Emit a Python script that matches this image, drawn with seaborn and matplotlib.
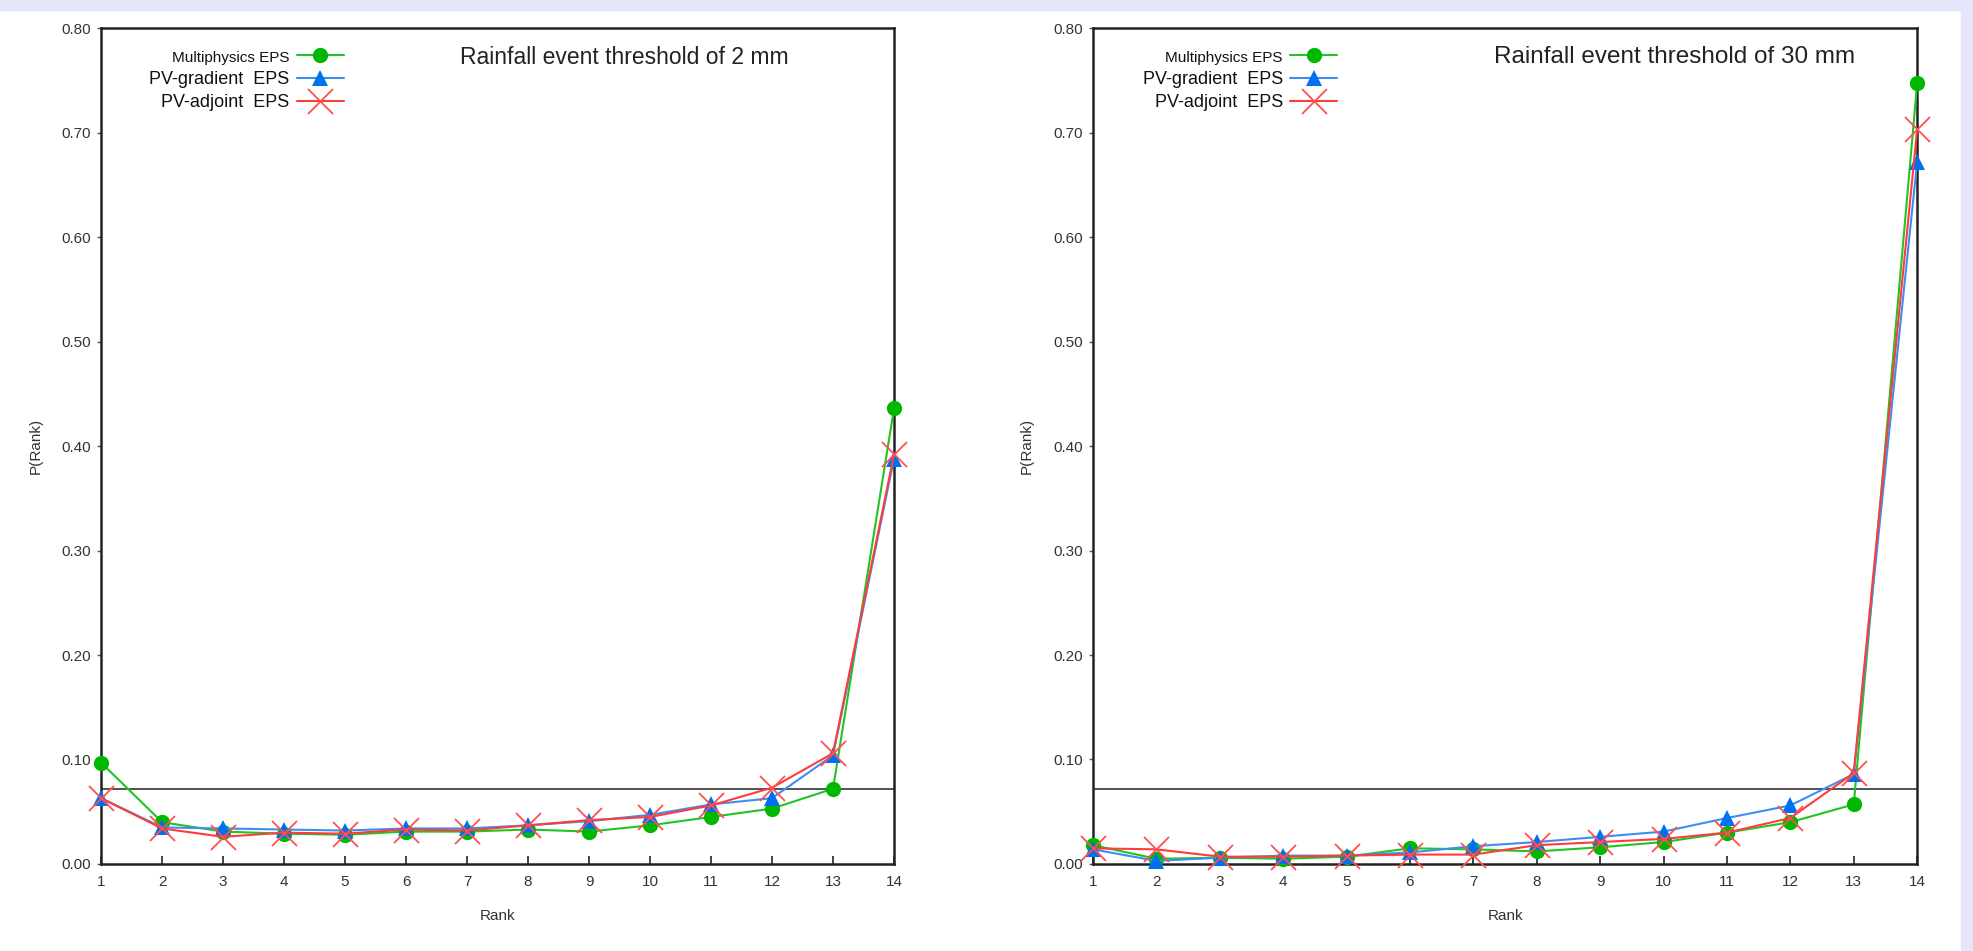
import numpy as np
import pandas as pd
import matplotlib
matplotlib.use("Agg")
import matplotlib.pyplot as plt
import seaborn as sns
from matplotlib.patches import Rectangle

sns.set_style("white")
plt.rcParams['font.family'] = ['Liberation Sans', 'DejaVu Sans']

ranks = list(range(1, 15))
series_names = ["Multiphysics EPS", "PV-gradient  EPS", "PV-adjoint  EPS"]

# Rainfall event threshold of 2 mm
multi_2mm = [0.097, 0.040, 0.031, 0.029, 0.028, 0.031, 0.031, 0.033, 0.031, 0.037, 0.045, 0.053, 0.072, 0.436]
grad_2mm = [0.063, 0.035, 0.034, 0.033, 0.032, 0.034, 0.034, 0.037, 0.041, 0.047, 0.057, 0.063, 0.104, 0.388]
adj_2mm = [0.063, 0.034, 0.026, 0.030, 0.029, 0.033, 0.032, 0.037, 0.042, 0.045, 0.056, 0.073, 0.106, 0.392]

# Rainfall event threshold of 30 mm
multi_30mm = [0.018, 0.005, 0.006, 0.005, 0.007, 0.015, 0.014, 0.012, 0.016, 0.021, 0.030, 0.040, 0.057, 0.747]
grad_30mm = [0.014, 0.003, 0.006, 0.008, 0.008, 0.011, 0.017, 0.021, 0.026, 0.031, 0.044, 0.056, 0.086, 0.672]
adj_30mm = [0.015, 0.014, 0.007, 0.007, 0.008, 0.009, 0.009, 0.018, 0.021, 0.024, 0.030, 0.044, 0.087, 0.703]

titles = ["Rainfall event threshold of 2 mm", "Rainfall event threshold of 30 mm"]
uniform_level = 1.0 / 14
y_ticks = [0.0, 0.1, 0.2, 0.3, 0.4, 0.5, 0.6, 0.7, 0.8]

styles = [
    dict(color="#22c422", marker="o", markersize=11, mec="#00b800", mfc="#00b800", mew=0),
    dict(color="#3d8ef0", marker="^", markersize=12, mec="#0070f0", mfc="#0070f0", mew=0),
    dict(color="#ff3b3b", marker="x", markersize=18, mec="#ff5050", mfc="none", mew=1.3),
]

fig = plt.figure(figsize=(19.74, 9.51), dpi=100)
fig.patch.set_facecolor("white")
# lavender frame strips
fig.patches.append(Rectangle((0, 0.989), 1, 0.011, transform=fig.transFigure, color="#e6e6fa", zorder=-1))
fig.patches.append(Rectangle((0.9935, 0), 0.0065, 1, transform=fig.transFigure, color="#e6e6fa", zorder=-1))

axes = [fig.add_axes([0.0512, 0.0915, 0.4017, 0.879]),
        fig.add_axes([0.5537, 0.0915, 0.4175, 0.879])]

datasets = [[multi_2mm, grad_2mm, adj_2mm], [multi_30mm, grad_30mm, adj_30mm]]
title_x = [0.453, 0.487]
title_fs = [16.5, 17.5]

for ax, data, title, tx, tfs in zip(axes, datasets, titles, title_x, title_fs):
    ax.axhline(uniform_level, color="#444444", lw=1.3, zorder=1)
    for name, vals, st in zip(series_names, data, styles):
        df = pd.DataFrame({"Rank": ranks, "P": vals})
        sns.lineplot(data=df, x="Rank", y="P", ax=ax, label=name, color=st["color"],
                     marker=st["marker"], markersize=st["markersize"], markeredgecolor=st["mec"],
                     markerfacecolor=st["mfc"], markeredgewidth=st["mew"], linewidth=1.5,
                     clip_on=False, zorder=3)
    ax.set_xlim(1, 14)
    ax.set_ylim(0, 0.8)
    ax.set_xticks(ranks)
    ax.set_xticklabels([str(r) for r in ranks], fontsize=11, color="#333333")
    ax.set_yticks(y_ticks)
    ax.set_yticklabels([f"{v:.2f}" for v in y_ticks], fontsize=11, color="#333333")
    ax.tick_params(axis="x", direction="in", length=6, width=1.2, color="#222222", pad=8, bottom=True)
    ax.tick_params(axis="y", direction="out", length=3, width=1, color="#555555", pad=4, left=True)
    ax.set_xlabel("Rank", fontsize=11, color="#333333", labelpad=14)
    ax.set_ylabel("P(Rank)", fontsize=11, color="#333333", labelpad=14)
    for sp in ax.spines.values():
        sp.set_visible(True)
        sp.set_color("#222222")
        sp.set_linewidth(1.8)
    ax.text(tx, 0.978, title, transform=ax.transAxes, fontsize=tfs, color="#222222",
            ha="left", va="top")
    leg = ax.legend(loc="upper left", bbox_to_anchor=(0.045, 0.99), frameon=False,
                    markerfirst=False, fontsize=13, handlelength=2.6, labelspacing=0.35,
                    handletextpad=0.4, borderaxespad=0.3)
    texts = leg.get_texts()
    texts[0].set_fontsize(11)
    for t in texts:
        t.set_color("#111111")

fig.savefig("out.png", dpi=100)
